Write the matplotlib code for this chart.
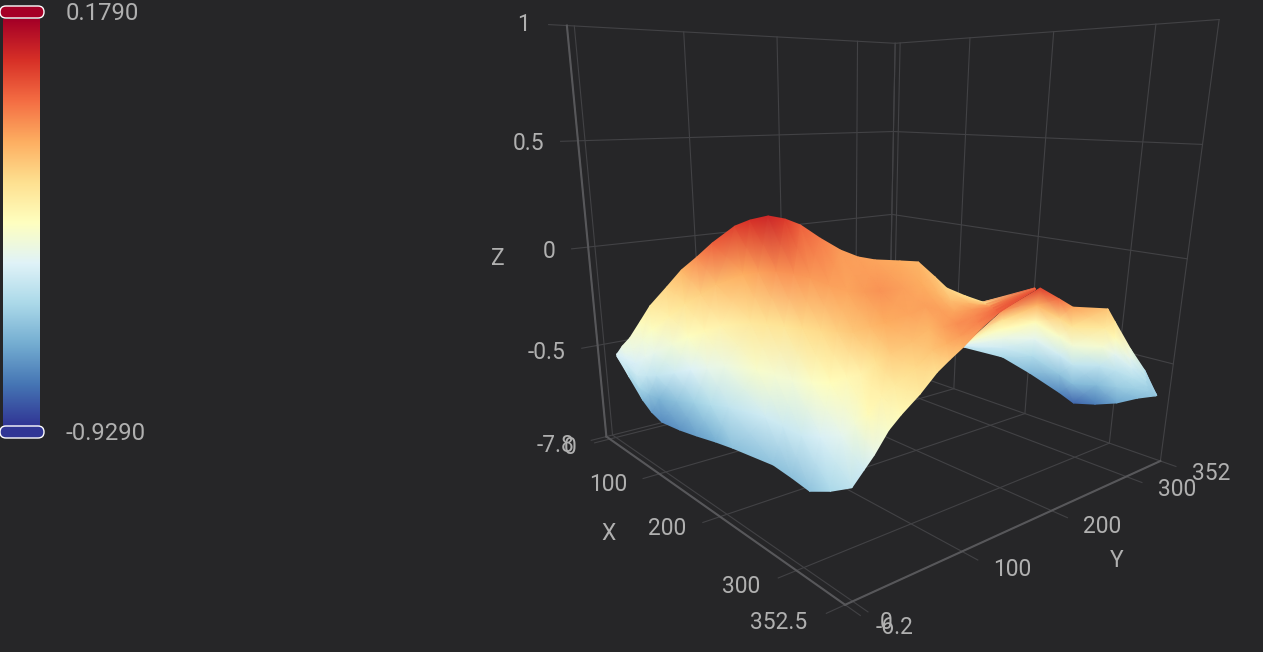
import matplotlib
matplotlib.use('Agg')
import matplotlib.pyplot as plt
import numpy as np
from matplotlib.patches import FancyBboxPatch
from mpl_toolkits.mplot3d import proj3d

plt.rcParams['font.family'] = ['Roboto', 'DejaVu Sans']

x_range = [-7.8, 352.5]
y_range = [-6.2, 352.0]
z_range = [-1, 1]
color_range = [-0.929, 0.179]
x_ticks = [0, 100, 200, 300]
y_ticks = [0, 100, 200, 300]
z_ticks = [-0.5, 0, 0.5, 1]

# surface, front sheet
x_main = [
    [35, 34, 33, 31, 30, 29], [55, 54, 53, 52, 51, 44], [70, 77, 81, 64, 56, 36],
    [75, 73, 82, 71, 47, 26], [89, 71, 82, 68, 46, 20], [119, 100, 99, 77, 51, 2],
    [151, 130, 115, 87, 51, -5], [183, 161, 135, 98, 55, 14], [216, 186, 149, 101, 57, 21],
    [263, 234, 192, 131, 63, 5], [285, 253, 207, 150, 78, 12], [312, 275, 223, 166, 102, 21],
    [335, 295, 247, 191, 120, 5], [351, 312, 265, 211, 136, -24], [348, 319, 271, 231, 162, 14],
    [353, 333, 278, 251, 185, 43], [348, 323, 289, 262, 208, 77], [347, 323, 304, 275, 220, 92],
    [344, 326, 305, 274, 210, 104], [334, 325, 297, 268, 197, 105], [340, 337, 320, 285, 221, 150],
    [346, 347, 334, 289, 233, 169], [352, 349, 331, 301, 254, 192], [369, 359, 339, 314, 256, 208],
    [362, 361, 361, 360, 359, 358]]
y_main = [
    [-7, -6, -6, -5, -5, -4], [-6, -6, -6, -6, -7, -5], [-2, -7, -10, -3, -1, 6],
    [3, 3, -2, 3, 13, 22], [5, 13, 7, 13, 23, 35], [6, 15, 15, 26, 38, 62],
    [4, 15, 22, 36, 54, 82], [3, 13, 26, 46, 68, 89], [-2, 14, 34, 60, 83, 102],
    [2, 16, 37, 71, 108, 137], [2, 18, 43, 75, 115, 150], [-3, 18, 48, 81, 118, 165],
    [-4, 19, 48, 81, 124, 196], [0, 23, 51, 84, 130, 236], [12, 29, 61, 84, 130, 233],
    [16, 28, 68, 83, 131, 237], [32, 48, 72, 90, 130, 232], [43, 59, 72, 92, 136, 241],
    [62, 75, 91, 116, 170, 263], [87, 91, 115, 139, 204, 287], [92, 92, 106, 138, 199, 266],
    [98, 94, 104, 148, 202, 263], [108, 108, 125, 153, 201, 264], [105, 113, 133, 159, 220, 270],
    [147, 148, 149, 150, 151, 152]]
z_main = [
    [-.50, -.50, -.50, -.50, -.50, -.50], [-.58, -.55, -.52, -.49, -.46, -.44],
    [-.68, -.60, -.53, -.50, -.45, -.42], [-.74, -.65, -.54, -.47, -.42, -.36],
    [-.77, -.69, -.55, -.46, -.38, -.30], [-.76, -.66, -.52, -.42, -.32, -.24],
    [-.73, -.62, -.49, -.38, -.27, -.17], [-.70, -.58, -.46, -.35, -.23, -.09],
    [-.66, -.55, -.44, -.33, -.19, -.02], [-.65, -.52, -.40, -.29, -.15, .04],
    [-.66, -.53, -.41, -.28, -.13, .07], [-.65, -.53, -.42, -.28, -.11, .09],
    [-.60, -.50, -.39, -.26, -.11, .05], [-.56, -.47, -.37, -.25, -.12, -.02],
    [-.52, -.42, -.35, -.23, -.13, -.07], [-.46, -.36, -.33, -.21, -.14, -.12],
    [-.40, -.33, -.27, -.18, -.12, -.13], [-.36, -.30, -.22, -.15, -.11, -.14],
    [-.31, -.25, -.19, -.14, -.13, -.15], [-.27, -.20, -.17, -.13, -.15, -.17],
    [-.22, -.16, -.13, -.13, -.17, -.20], [-.17, -.12, -.10, -.14, -.19, -.24],
    [-.10, -.08, -.09, -.12, -.18, -.26], [-.02, -.03, -.06, -.10, -.20, -.28],
    [.02, .02, .02, .02, .02, .02]]

# part of the surface showing behind the fold on the right
x_lobe = [
    [184, 202, 216, 230, 245, 255], [209, 220, 229, 242, 267, 328], [229, 232, 240, 249, 304, 371],
    [251, 259, 269, 277, 306, 360], [259, 277, 283, 294, 312, 335], [285, 293, 300, 316, 324, 329],
    [318, 319, 314, 315, 325, 329], [336, 334, 333, 332, 331, 331], [346, 343, 341, 338, 336, 333],
    [348, 348, 348, 348, 347, 347]]
y_lobe = [
    [274, 257, 243, 230, 216, 207], [301, 287, 276, 260, 230, 157], [318, 316, 307, 295, 225, 141],
    [337, 323, 308, 294, 253, 177], [349, 319, 308, 290, 262, 228], [345, 333, 324, 301, 290, 283],
    [328, 324, 328, 322, 304, 295], [330, 328, 326, 324, 321, 319], [333, 335, 336, 338, 340, 342],
    [338, 339, 339, 340, 340, 341]]
z_lobe = [
    [-.55, -.50, -.46, -.42, -.38, -.35], [-.60, -.52, -.45, -.37, -.27, -.10],
    [-.68, -.58, -.47, -.36, -.16, .04], [-.78, -.65, -.52, -.40, -.24, -.04],
    [-.84, -.67, -.55, -.42, -.28, -.14], [-.80, -.67, -.55, -.41, -.30, -.20],
    [-.72, -.63, -.56, -.47, -.36, -.27], [-.67, -.62, -.57, -.52, -.47, -.42],
    [-.65, -.63, -.61, -.59, -.57, -.55], [-.65, -.65, -.65, -.65, -.65, -.65]]

# text, then where it sits in data space
scene_labels = [
    ('100', 92, -49, -1), ('200', 192, -47, -1), ('300', 293, -46, -1), ('352.5', 342, -50, -1),
    ('-7.8', -17, -52, -1), ('0', -3, -43, -1), ('X', 172, -84, -1),
    ('0', 383, 1, -1), ('-6.2', 390, 2, -1), ('100', 391, 109, -1), ('200', 392, 209, -1),
    ('300', 393, 311, -1), ('352', 394, 362, -1), ('Y', 428, 175, -1),
    ('1', -20, -37, 1), ('0.5', 12, -55, .5), ('0', -7, -41, 0), ('-0.5', -14, -51, -.5), ('Z', 0, -86, 0)]

# camera of the scene: data coordinates to picture pixels
camera = np.array([[-0.1279306, 1.5657204, -65.6472388, 598.538136],
                   [-0.0994498, 0.0805076, -224.1409766, 247.5006645],
                   [-0.0009989, 0.0008024, -0.0781573, 1.0]])

BG = '#262628'
GRID = '#424245'
AXIS = '#57575a'
TXT = '#b0b0b0'
CMAP = 'RdYlBu_r'
W, H = 1263, 652

# mplot3d view limits are fixed, so turn the pixel camera into its own coordinates
a = .185 / W
M = np.zeros((4, 4))
M[0] = a * camera[0] - .095 * camera[2]
M[1] = -a * camera[1] + (-.095 + (H + (W - H) / 2) * a) * camera[2]
M[2] = [0, 0, 0, -1]
M[3] = camera[2]

fig = plt.figure(figsize=(W / 100, H / 100), dpi=100, facecolor=BG)
pos = [0, -(W - H) / 2 / H, 1, W / H]
ax = fig.add_axes(pos, projection='3d')
ax.set_axis_off()
ax.patch.set_alpha(0)
ax.set_proj_type('ortho')
ax.get_proj = lambda: M
ax.M = M

xmin, xmax = x_range
ymin, ymax = y_range
zmin, zmax = z_range
tick = 15
for x in x_ticks + x_range:
    ax.plot([x, x], [ymin - tick, ymax], [zmin, zmin], color=GRID, lw=.8)
    ax.plot([x, x], [ymax, ymax], [zmin, zmax], color=GRID, lw=.8)
for y in y_ticks + y_range:
    ax.plot([xmin, xmax + tick], [y, y], [zmin, zmin], color=GRID, lw=.8)
    ax.plot([xmin, xmin], [y, y], [zmin, zmax], color=GRID, lw=.8)
for z in z_ticks:
    ax.plot([xmin, xmin], [ymin - tick, ymax], [z, z], color=GRID, lw=.8)
    ax.plot([xmin, xmax], [ymax, ymax], [z, z], color=GRID, lw=.8)
ax.plot(x_range, [ymin, ymin], [zmin, zmin], color=AXIS, lw=1.5)
ax.plot([xmax, xmax], y_range, [zmin, zmin], color=AXIS, lw=1.5)
ax.plot([xmin, xmin], [ymin, ymin], z_range, color=AXIS, lw=1.5)

# smooth shading needs gouraud, which only the 2D mesh has
over = fig.add_axes(pos, facecolor='none')
over.set_axis_off()
over.set_xlim(-.095, .09)
over.set_ylim(-.095, .09)
for xs, ys, zs in ((x_lobe, y_lobe, z_lobe), (x_main, y_main, z_main)):
    xs, ys, zs = np.array(xs, float), np.array(ys, float), np.array(zs)
    px, py, _ = proj3d.proj_transform(xs.ravel(), ys.ravel(), zs.ravel(), M)
    over.pcolormesh(px.reshape(xs.shape), py.reshape(xs.shape), zs, shading='gouraud',
                    cmap=CMAP, vmin=color_range[0], vmax=color_range[1])
for s, x, y, z in scene_labels:
    px, py, _ = proj3d.proj_transform(x, y, z, M)
    over.text(px, py, s, color=TXT, fontsize=16.4, ha='center', va='center')

# color bar on the left, in pixels
ui = fig.add_axes([0, 0, 1, 1], facecolor='none')
ui.set_axis_off()
ui.imshow(np.linspace(color_range[1], color_range[0], 256)[:, None], cmap=CMAP,
          vmin=color_range[0], vmax=color_range[1], aspect='auto', extent=(3, 40, 426, 19), zorder=1)
ui.set_xlim(0, W)
ui.set_ylim(H, 0)
for top, c in ((6, '#a50026'), (426, '#313695')):
    ui.add_patch(FancyBboxPatch((0, top), 44, 12, boxstyle='round,pad=0,rounding_size=6',
                                fc=c, ec='white', lw=1, zorder=2))
ui.text(66, 13, '%.4f' % color_range[1], color=TXT, fontsize=17.2, va='center')
ui.text(66, 433, '%.4f' % color_range[0], color=TXT, fontsize=17.2, va='center')

fig.savefig('out.png', dpi=100, facecolor=BG)
